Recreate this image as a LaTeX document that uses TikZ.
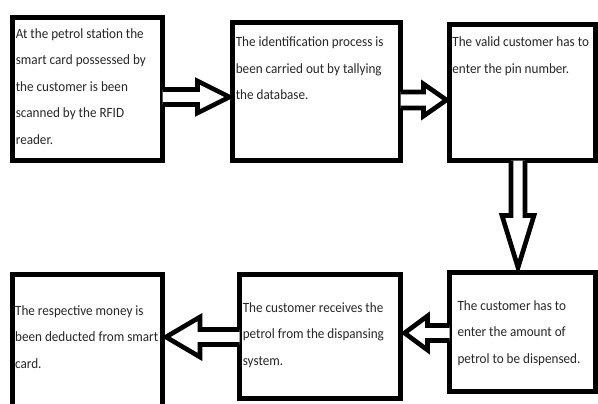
\documentclass[tikz,border=0pt]{standalone}
\usepackage{fontspec}
\setmainfont[FakeStretch=0.93]{Carlito}
\usetikzlibrary{calc}

% text block inside a box: width, height, first baseline, left pad, text
\newcommand{\boxtext}[5]{\parbox[c][#2][t]{#1}{\raggedright\leftskip=#4\relax\rightskip=-12pt plus 1fil\relax\rule{0pt}{#3}#5}}

\tikzset{
  box/.style={draw, line width=3.9pt, anchor=north west, inner sep=0pt, outer sep=0pt,
    text=black!85, font={\fontsize{10.6}{19.8}\selectfont}},
  fat/.style={draw, fill=white, line width=3.5pt, line join=miter},
}

\begin{document}
\begin{tikzpicture}[x=0.75pt,y=-0.75pt]
  \useasboundingbox (0,0) rectangle (598,403);
  % 上排
  \node[box] (b1) at (12.5,17.5) {\boxtext{112.5pt}{107.25pt}{15.75pt}{2.5pt}{At the petrol station the\\smart card possessed by\\the customer is been\\scanned by the RFID\\reader.}};
  \node[box] (b2) at (232.5,22.5) {\boxtext{126pt}{103.5pt}{18.2pt}{2.5pt}{The identification process is\\been carried out by tallying\\the database.}};
  \node[box] (b3) at (449.5,24.5) {\boxtext{109.5pt}{102pt}{16.7pt}{2.2pt}{The valid customer has to\\enter the pin number.}};
  % 下排
  \node[box] (b4) at (12.5,274.5) {\boxtext{112.5pt}{101.25pt}{30.75pt}{2pt}{The respective money is\\been deducted from smart\\card.}};
  \node[box] (b5) at (239.5,274.5) {\boxtext{120.75pt}{93pt}{28.5pt}{2.5pt}{The customer receives the\\petrol from the dispansing\\system.}};
  \node[box] (b6) at (449.5,272.5) {\boxtext{109.5pt}{89.25pt}{28.5pt}{6pt}{The customer has to\\enter the amount of\\petrol to be dispensed.}};
  % 箭头 b1 -> b2
  \coordinate (t1) at ($(b1.east)+(0,8)$);
  \coordinate (h1) at ($(t1-|b2.west)+(-3,0)$);
  \draw[fat] ($(t1)+(0,-7.5)$) -- ($(h1)+(-32,-7.5)$) -- ($(h1)+(-32,-16)$) -- (h1)
    -- ($(h1)+(-32,16)$) -- ($(h1)+(-32,7.5)$) -- ($(t1)+(0,7.5)$);
  % 箭头 b2 -> b3
  \coordinate (t2) at ($(b2.east)+(0,8.5)$);
  \coordinate (h2) at ($(t2-|b3.west)+(-3,0)$);
  \draw[fat] ($(t2)+(0,-8)$) -- ($(h2)+(-23,-8)$) -- ($(h2)+(-23,-16)$) -- (h2)
    -- ($(h2)+(-23,16)$) -- ($(h2)+(-23,8)$) -- ($(t2)+(0,8)$);
  % 箭头 b3 -> b6
  \coordinate (t3) at ($(b3.south)+(-4.5,0)$);
  \coordinate (h3) at ($(t3|-b6.north)+(0,-5)$);
  \draw[fat] ($(t3)+(-7,0)$) -- ($(h3)+(-7,-52)$) -- ($(h3)+(-16,-52)$) -- (h3)
    -- ($(h3)+(16,-52)$) -- ($(h3)+(7,-52)$) -- ($(t3)+(7,0)$);
  % 箭头 b6 -> b5
  \coordinate (t4) at ($(b6.west)+(0,1)$);
  \coordinate (h4) at ($(t4-|b5.east)+(4,0)$);
  \draw[fat] ($(t4)+(0,-7.5)$) -- ($(h4)+(23,-7.5)$) -- ($(h4)+(23,-17)$) -- (h4)
    -- ($(h4)+(23,17)$) -- ($(h4)+(23,7.5)$) -- ($(t4)+(0,7.5)$);
  % 箭头 b5 -> b4
  \coordinate (t5) at ($(b5.west)+(0,0.5)$);
  \coordinate (h5) at ($(t5-|b4.east)+(3.5,0)$);
  \draw[fat] ($(t5)+(0,-7.5)$) -- ($(h5)+(34,-7.5)$) -- ($(h5)+(34,-20)$) -- (h5)
    -- ($(h5)+(34,20)$) -- ($(h5)+(34,7.5)$) -- ($(t5)+(0,7.5)$);
\end{tikzpicture}
\end{document}
